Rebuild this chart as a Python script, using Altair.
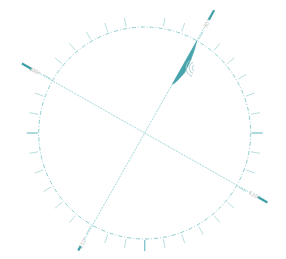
import altair as alt
import pandas as pd

# ---- data ----
minor_ticks = [10, 20, 30, 40, 50, 60, 70, 80, 100, 110, 120, 130, 140, 150, 160, 170,
               190, 200, 210, 220, 230, 240, 250, 260, 280, 290, 300, 310, 320, 330, 340, 350]
major_ticks = [90, 180, 270]
axis_bearings = [29.5, 119.5]
label_bearings = [29.5, 119.5, 209.5, 299.5]
label_texts = ["30°", "120°", "210°", "300°"]
label_angles = [299.5, 29.5, 299.5, 29.5]
end_outer = [141, 141, 135, 141]
shape_bearing = [29.5, 29.5, 31.0, 32.5, 33.5, 32.0, 30.5]
shape_radius = [56, 106, 96, 84, 72, 62, 57]
arc_radii = [3, 6, 9]

W, H = 270, 243
CX, CY = 136.7, 125.0
R = 106

xs = alt.Scale(domain=[-CX, W - CX], nice=False, zero=False)
ys = alt.Scale(domain=[CY - H, CY], nice=False, zero=False)
X = lambda f: alt.X(f, type="quantitative", scale=xs, axis=None)
Y = lambda f: alt.Y(f, type="quantitative", scale=ys, axis=None)
X2 = lambda f: alt.X2(f)
Y2 = lambda f: alt.Y2(f)

teal_light = "#8ccdd0"
teal = "#3e9fa8"

circle = alt.Chart(pd.DataFrame({"x": [0], "y": [0]})).mark_point(
    shape="circle", size=(2 * R) ** 2, filled=False, stroke=teal_light,
    strokeWidth=1, strokeDash=[4, 2, 1, 2], opacity=1
).encode(x=X("x"), y=Y("y"))

def radial(df, r1, r2):
    return alt.Chart(df).transform_calculate(
        x1=f"sin(datum.b*PI/180)*{r1}", y1=f"cos(datum.b*PI/180)*{r1}",
        x2=f"sin(datum.b*PI/180)*{r2}", y2=f"cos(datum.b*PI/180)*{r2}")

minor = radial(pd.DataFrame({"b": minor_ticks}), 108, 117).mark_rule(
    stroke="#a6d6d6", strokeWidth=0.8
).encode(x=X("x1"), y=Y("y1"), x2=X2("x2"), y2=Y2("y2"))

major = radial(pd.DataFrame({"b": major_ticks}), 107, 118).mark_rule(
    stroke="#7fc4c8", strokeWidth=1.3
).encode(x=X("x1"), y=Y("y1"), x2=X2("x2"), y2=Y2("y2"))

axes_thin = radial(pd.DataFrame({"b": axis_bearings}), -123, 123).mark_rule(
    stroke=teal_light, strokeWidth=0.8, strokeDash=[2, 1]
).encode(x=X("x1"), y=Y("y1"), x2=X2("x2"), y2=Y2("y2"))

ends = alt.Chart(pd.DataFrame({"b": label_bearings, "ro": end_outer})).transform_calculate(
    x1="sin(datum.b*PI/180)*130", y1="cos(datum.b*PI/180)*130",
    x2="sin(datum.b*PI/180)*datum.ro", y2="cos(datum.b*PI/180)*datum.ro"
).mark_rule(stroke=teal, strokeWidth=2.2).encode(
    x=X("x1"), y=Y("y1"), x2=X2("x2"), y2=Y2("y2"))

labels = alt.Chart(pd.DataFrame({"b": label_bearings, "t": label_texts,
                                 "a": label_angles})).transform_calculate(
    x="sin(datum.b*PI/180)*126", y="cos(datum.b*PI/180)*126"
).mark_text(fontSize=5, color="#b5b5b5", font="DejaVu Sans").encode(
    x=X("x"), y=Y("y"), text="t:N", angle=alt.Angle("a:Q", scale=None))

shape_df = pd.DataFrame({"b": shape_bearing, "r": shape_radius,
                         "o": list(range(len(shape_bearing)))})
shape = alt.Chart(shape_df).transform_calculate(
    x="sin(datum.b*PI/180)*datum.r", y="cos(datum.b*PI/180)*datum.r"
).mark_line(fill=teal, stroke=teal, strokeWidth=0.5, opacity=0.95).encode(
    x=X("x"), y=Y("y"), order="o:Q")

arcs = alt.Chart(pd.DataFrame({"r": arc_radii, "x": [50.5] * 3, "y": [65.0] * 3})).mark_arc(
    theta=3.5, theta2=5.9, fillOpacity=0, stroke="#a9cfd2", strokeWidth=0.6
).encode(x=X("x"), y=Y("y"), radius=alt.Radius("r:Q", scale=None),
         radius2=alt.Radius2("r"))

chart = alt.layer(circle, minor, major, axes_thin, shape, arcs, ends, labels).properties(
    width=W, height=H, autosize=alt.AutoSizeParams(type="none"), padding=0
).configure_view(stroke=None)

chart.save("out.html", embed_options={"renderer": "svg", "actions": False})
